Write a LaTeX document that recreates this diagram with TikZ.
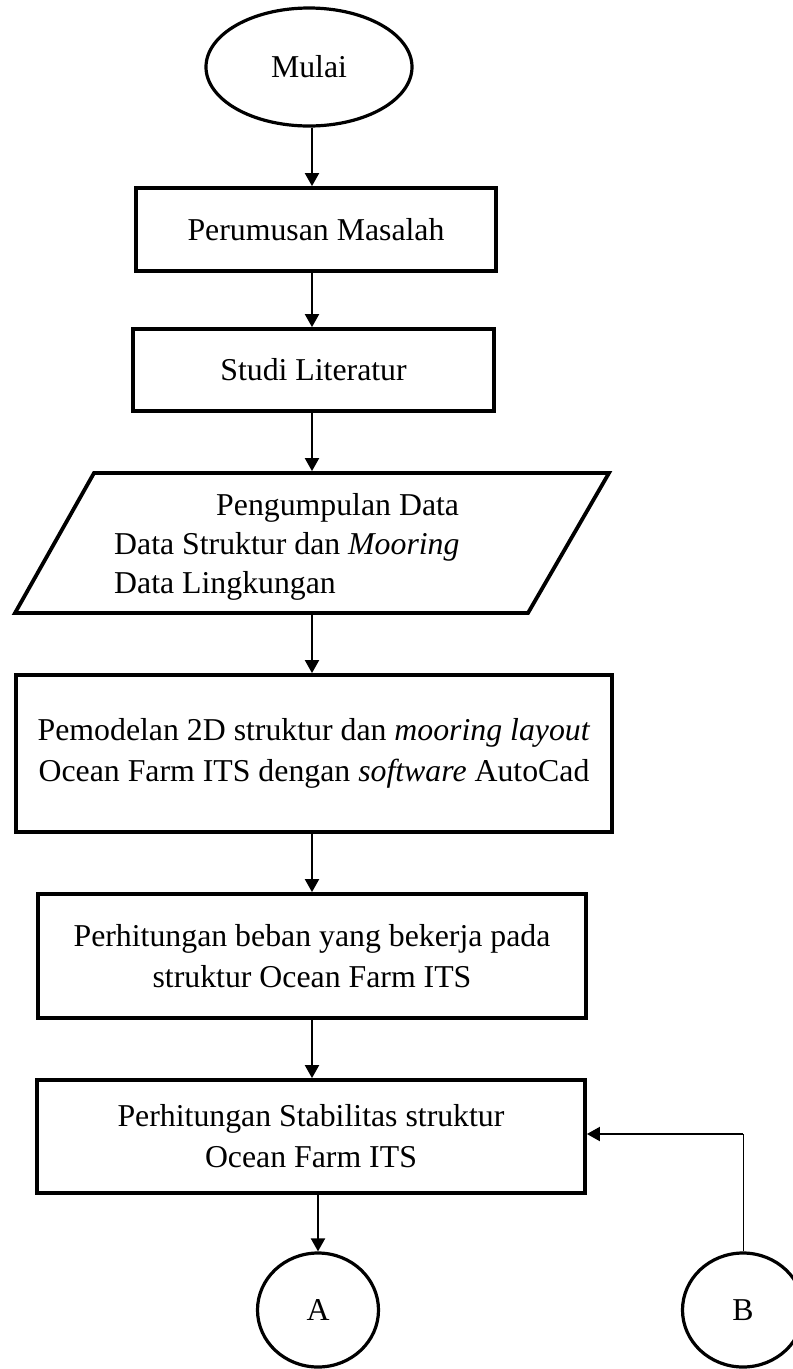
\documentclass[tikz,border=0pt]{standalone}
\usepackage{fontspec}
\setmainfont{Liberation Serif}
\usetikzlibrary{arrows.meta,shapes.geometric,calc}
\begin{document}
\begin{tikzpicture}[x=1pt,y=-1pt,
  every node/.style={font=\fontsize{31.8}{41}\selectfont},
  box/.style={draw, line width=3.8pt, rectangle, align=center, inner sep=0pt},
  term/.style={draw, line width=3.2pt, ellipse, inner sep=0pt},
  arr/.style={line width=2pt, -{Triangle[width=14pt,length=13pt]}},
]
\useasboundingbox (0,0) rectangle (793,1369);

\coordinate (m) at (312,0);
\coordinate (bk) at (743,1134);

\node[term, minimum width=206pt, minimum height=118pt] (start) at (309,67) {Mulai};
\node[box, minimum width=360pt, minimum height=83pt] (b1) at (316,229.5) {Perumusan Masalah};
\node[box, minimum width=361pt, minimum height=82pt] (b2) at (313.5,370) {Studi Literatur};

\node[minimum width=594pt, minimum height=140pt, inner sep=0pt, outer sep=1.9pt] (pd) at (312,543) {};
\draw[line width=3.8pt, line join=miter]
  ($(pd.south)+(-297,-1.9)$) -- ($(pd.south)+(216,-1.9)$) --
  ($(pd.north)+(297,1.9)$) -- ($(pd.north)+(-218,1.9)$) -- cycle;
\node[anchor=base west, align=left, inner sep=0pt, font=\fontsize{31.8}{39}\selectfont] (pdt) at (114,593)
  {\hspace*{102pt}Pengumpulan Data\\ Data Struktur dan \textit{Mooring}\\ Data Lingkungan};

\node[box, minimum width=596pt, minimum height=157pt] (b3) at (314,753.5)
  {Pemodelan 2D struktur dan \textit{mooring layout}\\ Ocean Farm ITS dengan \textit{software} AutoCad};
\node[box, minimum width=548pt, minimum height=124pt] (b4) at (312,956)
  {Perhitungan beban yang bekerja pada\\ struktur Ocean Farm ITS};
\node[box, minimum width=548pt, minimum height=113pt] (b5) at (311,1136.5)
  {Perhitungan Stabilitas struktur\\ Ocean Farm ITS};

\node[term, minimum width=121pt, minimum height=114pt] (A) at (318,1310) {A};
\node[term, minimum width=121pt, minimum height=114pt] (B) at (743,1310) {B};

\draw[arr] (start.south -| m) -- (b1.north -| m);
\draw[arr] (b1.south -| m) -- (b2.north -| m);
\draw[arr] (b2.south -| m) -- (pd.north);
\draw[arr] (pd.south) -- (b3.north -| m);
\draw[arr] (b3.south -| m) -- (b4.north -| m);
\draw[arr] (b4.south -| m) -- (b5.north -| m);
\draw[arr] (b5.south -| A) -- (A.north);
\draw[line width=1pt] (B.north) -- (bk);
\draw[arr] (bk) -- (b5.east |- bk);
\end{tikzpicture}
\end{document}
